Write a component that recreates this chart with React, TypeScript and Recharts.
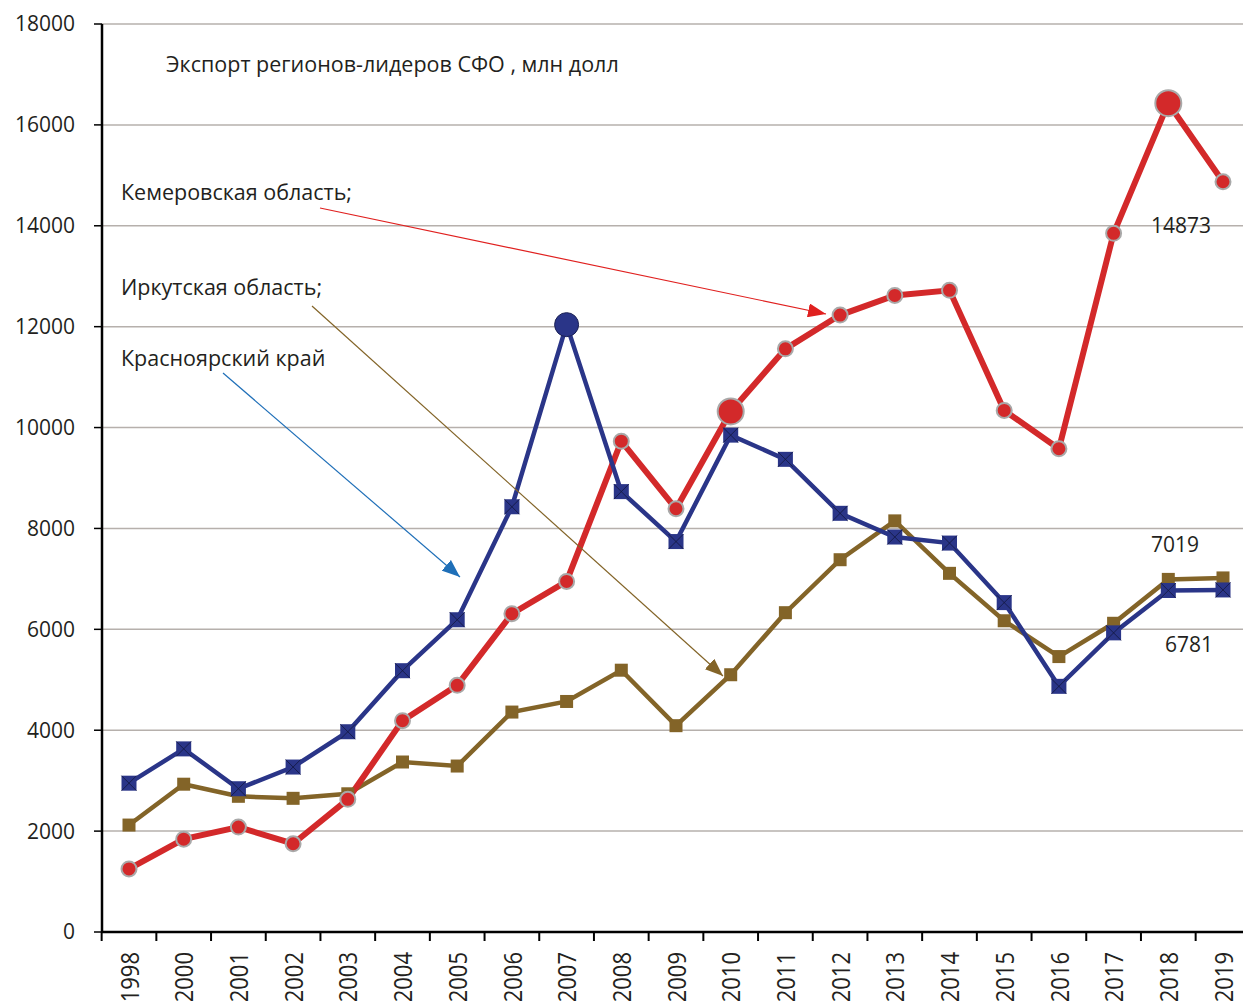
import React from 'react';
import { LineChart, Line, XAxis, YAxis, CartesianGrid } from 'recharts';

// Years on the axis (1999 is absent in the source)
const years = ['1998', '2000', '2001', '2002', '2003', '2004', '2005', '2006', '2007', '2008', '2009',
    '2010', '2011', '2012', '2013', '2014', '2015', '2016', '2017', '2018', '2019'];

// Export, mln USD
const krasnoyarsk = [2950, 3630, 2840, 3270, 3970, 5180, 6190, 8430, 12040, 8730, 7740,
    9850, 9370, 8300, 7830, 7710, 6530, 4870, 5930, 6770, 6781];
const irkutsk = [2120, 2930, 2690, 2650, 2740, 3370, 3290, 4360, 4570, 5190, 4090,
    5100, 6330, 7380, 8150, 7110, 6170, 5460, 6120, 6990, 7019];
const kemerovo = [1250, 1840, 2080, 1750, 2630, 4190, 4890, 6310, 6950, 9730, 8390,
    10320, 11560, 12230, 12620, 12720, 10340, 9580, 13850, 16430, 14873];

// points drawn with a bigger marker
const krasnoyarskBig = ['2007'];
const kemerovoBig = ['2010', '2018'];

const yTicks = [0, 2000, 4000, 6000, 8000, 10000, 12000, 14000, 16000, 18000];

const data = years.map((year, i) => ({
    year,
    krasnoyarsk: krasnoyarsk[i],
    irkutsk: irkutsk[i],
    kemerovo: kemerovo[i],
}));

const BLUE = '#2a3588';
const RED = '#d3292a';
const BROWN = '#836428';
const FONT = '"Open Sans", sans-serif';
const TEXT = '#231f20';
const HALF_STEP = 27.35;

const XTick = (props: any) => {
    const { x, y, payload } = props;
    const ty = y + 20;
    return (
        <g>
            <line x1={x - HALF_STEP} x2={x - HALF_STEP} y1={y} y2={y + 9} stroke="#000" strokeWidth={2} />
            <text
                x={0}
                y={0}
                transform={`translate(${x} ${ty}) rotate(-90) scale(1 1.15)`}
                textAnchor="end"
                dominantBaseline="central"
                fontSize={22}
                fontFamily={FONT}
                fill={TEXT}
            >
                {payload.value}
            </text>
        </g>
    );
};

const BlueDot = (props: any) => {
    const { cx, cy, payload } = props;
    if (cx == null || cy == null) return null;
    if (krasnoyarskBig.includes(payload.year)) {
        return <circle key={payload.year} cx={cx} cy={cy} r={12} fill={BLUE} stroke="#1b2155" strokeWidth={1} />;
    }
    const s = 7.5;
    return (
        <g key={payload.year}>
            <rect x={cx - s} y={cy - s} width={s * 2} height={s * 2} fill={BLUE} />
            <line x1={cx - s} y1={cy - s} x2={cx + s} y2={cy + s} stroke="#12173d" strokeWidth={0.8} />
            <line x1={cx - s} y1={cy + s} x2={cx + s} y2={cy - s} stroke="#12173d" strokeWidth={0.8} />
        </g>
    );
};

const RedDot = (props: any) => {
    const { cx, cy, payload } = props;
    if (cx == null || cy == null) return null;
    const r = kemerovoBig.includes(payload.year) ? 13 : 7.5;
    return <circle key={payload.year} cx={cx} cy={cy} r={r} fill={RED} stroke="#a9a9a9" strokeWidth={2} />;
};

const BrownDot = (props: any) => {
    const { cx, cy, payload } = props;
    if (cx == null || cy == null) return null;
    const s = 6.5;
    return <rect key={payload.year} x={cx - s} y={cy - s} width={s * 2} height={s * 2} fill={BROWN} />;
};

const labelStyle = { fontFamily: FONT, fontSize: 21.5, fill: TEXT };
const numStyle = { fontFamily: FONT, fontSize: 21, fill: TEXT };

export default function App() {
    return (
        <div style={{ position: 'absolute', left: 0, top: 0, width: 1243, height: 1001, background: '#fff' }}>
            <LineChart width={1243} height={1001} data={data} margin={{ top: 24, right: 0, left: 0, bottom: 0 }}>
                <CartesianGrid vertical={false} stroke="#b6b0ac" strokeWidth={1.5} />
                <XAxis
                    dataKey="year"
                    height={69}
                    padding={{ left: 27, right: 20 }}
                    axisLine={{ stroke: '#000', strokeWidth: 2.5 }}
                    tickLine={false}
                    tickSize={0}
                    tickMargin={0}
                    interval={0}
                    tick={<XTick />}
                />
                <YAxis
                    width={102}
                    domain={[0, 18000]}
                    ticks={yTicks}
                    interval={0}
                    axisLine={{ stroke: '#000', strokeWidth: 2.5 }}
                    tickLine={{ stroke: '#000', strokeWidth: 1.5 }}
                    tickSize={8}
                    tickMargin={19}
                    tick={{ fontSize: 21, fontFamily: FONT, fill: TEXT }}
                />
                <Line dataKey="irkutsk" stroke={BROWN} strokeWidth={4.5} dot={<BrownDot />} activeDot={false} isAnimationActive={false} />
                <Line dataKey="kemerovo" stroke={RED} strokeWidth={6} dot={<RedDot />} activeDot={false} isAnimationActive={false} />
                <Line dataKey="krasnoyarsk" stroke={BLUE} strokeWidth={4.5} dot={<BlueDot />} activeDot={false} isAnimationActive={false} />
            </LineChart>
            <svg width={1243} height={1001} style={{ position: 'absolute', left: 0, top: 0, pointerEvents: 'none' }}>
                <defs>
                    <marker id="arRed" markerUnits="userSpaceOnUse" markerWidth={20} markerHeight={14} refX={18} refY={7} orient="auto">
                        <path d="M0,0 L18,7 L0,14 z" fill="#e0201f" />
                    </marker>
                    <marker id="arBrown" markerUnits="userSpaceOnUse" markerWidth={20} markerHeight={14} refX={18} refY={7} orient="auto">
                        <path d="M0,0 L18,7 L0,14 z" fill={BROWN} />
                    </marker>
                    <marker id="arBlue" markerUnits="userSpaceOnUse" markerWidth={20} markerHeight={14} refX={18} refY={7} orient="auto">
                        <path d="M0,0 L18,7 L0,14 z" fill="#1f6fb8" />
                    </marker>
                </defs>
                <line x1={320} y1={208} x2={826} y2={314} stroke="#e0201f" strokeWidth={1.2} markerEnd="url(#arRed)" />
                <line x1={312} y1={306} x2={723} y2={676} stroke={BROWN} strokeWidth={1.2} markerEnd="url(#arBrown)" />
                <line x1={223} y1={373} x2={460} y2={577} stroke="#1f6fb8" strokeWidth={1.2} markerEnd="url(#arBlue)" />
                <text x={166} y={72} {...labelStyle}>Экспорт регионов-лидеров СФО , млн долл</text>
                <text x={121} y={200} {...labelStyle}>Кемеровская область;</text>
                <text x={121} y={295} {...labelStyle}>Иркутская область;</text>
                <text x={121} y={366} {...labelStyle}>Красноярский край</text>
                <text x={1151} y={233} {...numStyle}>{kemerovo[kemerovo.length - 1]}</text>
                <text x={1151} y={552} {...numStyle}>{irkutsk[irkutsk.length - 1]}</text>
                <text x={1165} y={652} {...numStyle}>{krasnoyarsk[krasnoyarsk.length - 1]}</text>
            </svg>
        </div>
    );
}
